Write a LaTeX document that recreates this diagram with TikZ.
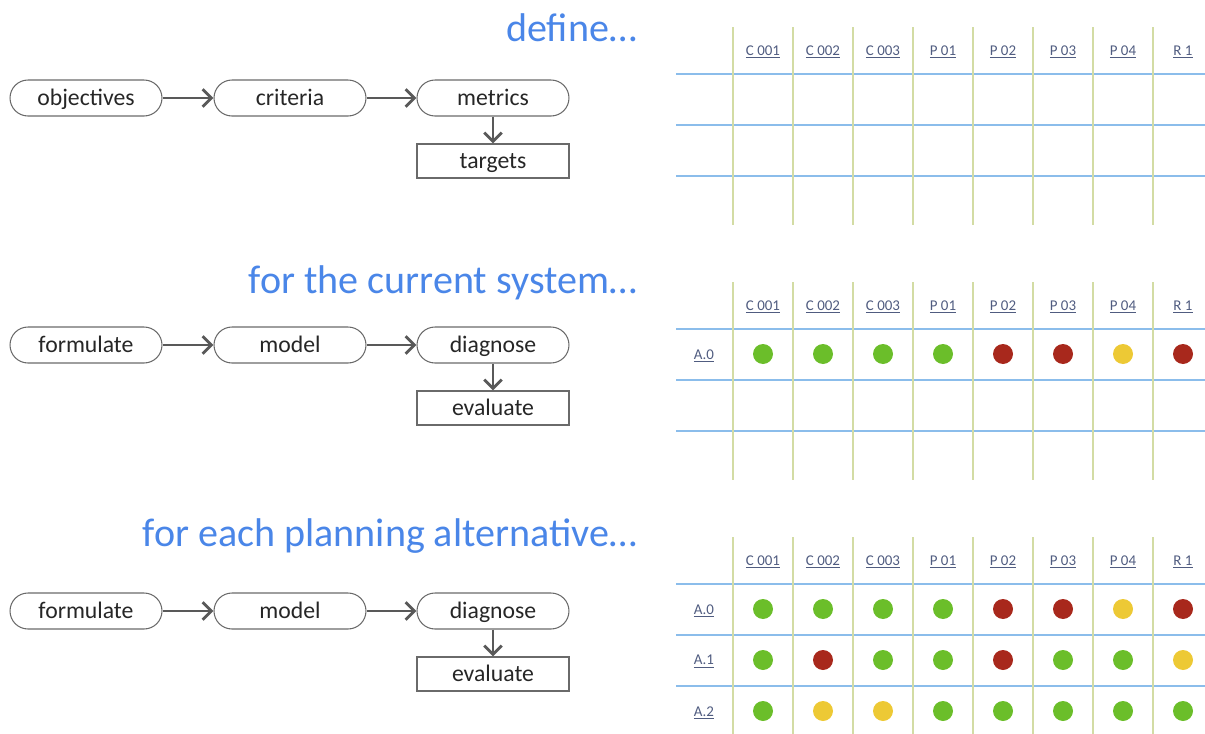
\documentclass[tikz,border=0pt]{standalone}
\usepackage{fontspec}
\setmainfont{Carlito}
\usetikzlibrary{arrows.meta}

\definecolor{titleblue}{HTML}{4A86E8}
\definecolor{boxgray}{HTML}{6A6A6A}
\definecolor{arrowgray}{HTML}{595959}
\definecolor{hlineblue}{HTML}{8BBDEB}
\definecolor{vlinegreen}{HTML}{D3DCA4}
\definecolor{headslate}{HTML}{505C80}
\definecolor{dotgreen}{HTML}{6BBE2A}
\definecolor{dotred}{HTML}{A8281C}
\definecolor{dotyellow}{HTML}{EDC935}

\tikzset{
  pill/.style={draw=boxgray, line width=0.6pt, rounded corners=0.36cm,
    minimum width=3.04cm, minimum height=0.72cm, inner sep=0pt,
    text height=11pt, text depth=2pt,
    font=\fontsize{13.5}{15}\selectfont, text=black!85},
  box/.style={draw=boxgray, line width=0.6pt,
    minimum width=3.04cm, minimum height=0.68cm, inner sep=0pt,
    text height=11pt, text depth=2pt,
    font=\fontsize{13.5}{15}\selectfont, text=black!85},
  link/.style={draw=arrowgray, line width=0.85pt,
    -{Straight Barb[length=5pt,width=10pt,line width=1.7pt]}},
  title/.style={anchor=east, text=titleblue, font=\fontsize{22.8}{26}\selectfont},
  head/.style={text=headslate, font=\fontsize{8.5}{10}\selectfont},
  hline/.style={draw=hlineblue, line width=1pt},
  vline/.style={draw=vlinegreen, line width=1pt}
}

\begin{document}
\begin{tikzpicture}[x=0.02cm,y=-0.02cm]
	\useasboundingbox (0,0) rectangle (1205,734);

	% titles
	\node[title] (tdefine) at (643,28) {define…};
	\node[title] (tcurrent) at (643,283) {for the current system…};
	\node[title] (teach) at (643,536) {for each planning alternative…};

	% define chain
	\node[pill] (objectives) at (86,98) {objectives};
	\node[pill] (criteria) at (290,98) {criteria};
	\node[pill] (metrics) at (493,98) {metrics};
	\node[box] (targets) at (493,161) {targets};
	\draw[link] (objectives) -- (criteria);
	\draw[link] (criteria) -- (metrics);
	\draw[link] (metrics) -- (targets);

	% current system chain
	\node[pill] (formulateA) at (86,345) {formulate};
	\node[pill] (modelA) at (290,345) {model};
	\node[pill] (diagnoseA) at (493,345) {diagnose};
	\node[box] (evaluateA) at (493,408) {evaluate};
	\draw[link] (formulateA) -- (modelA);
	\draw[link] (modelA) -- (diagnoseA);
	\draw[link] (diagnoseA) -- (evaluateA);

	% planning alternative chain
	\node[pill] (formulateB) at (86,611) {formulate};
	\node[pill] (modelB) at (290,611) {model};
	\node[pill] (diagnoseB) at (493,611) {diagnose};
	\node[box] (evaluateB) at (493,674) {evaluate};
	\draw[link] (formulateB) -- (modelB);
	\draw[link] (modelB) -- (diagnoseB);
	\draw[link] (diagnoseB) -- (evaluateB);

	% the three tables
	\foreach \t in {0,255,510} {
		\foreach \h in {74,125,176}
			\draw[hline] (676,\h+\t) -- (1205,\h+\t);
		\foreach \x in {733,793,...,1153}
			\draw[vline] (\x,27+\t) -- (\x,225+\t);
		\foreach \name [count=\i] in {C 001,C 002,C 003,P 01,P 02,P 03,P 04,R 1}
			\node[head] (head-\t-\i) at (703+60*\i,52+\t) {\underline{\name}};
	}

	% current system scores
	\node[head] (rowA0) at (704,356) {\underline{A.0}};
	\foreach \c [count=\i] in {dotgreen,dotgreen,dotgreen,dotgreen,dotred,dotred,dotyellow,dotred}
		\fill[\c] (703+60*\i,354) circle (0.2cm);

	% alternative scores
	\node[head] (altA0) at (704,611) {\underline{A.0}};
	\node[head] (altA1) at (704,662) {\underline{A.1}};
	\node[head] (altA2) at (704,713) {\underline{A.2}};
	\foreach \c [count=\i] in {dotgreen,dotgreen,dotgreen,dotgreen,dotred,dotred,dotyellow,dotred}
		\fill[\c] (703+60*\i,609) circle (0.2cm);
	\foreach \c [count=\i] in {dotgreen,dotred,dotgreen,dotgreen,dotred,dotgreen,dotgreen,dotyellow}
		\fill[\c] (703+60*\i,660) circle (0.2cm);
	\foreach \c [count=\i] in {dotgreen,dotyellow,dotyellow,dotgreen,dotgreen,dotgreen,dotgreen,dotgreen}
		\fill[\c] (703+60*\i,711) circle (0.2cm);

\end{tikzpicture}
\end{document}
